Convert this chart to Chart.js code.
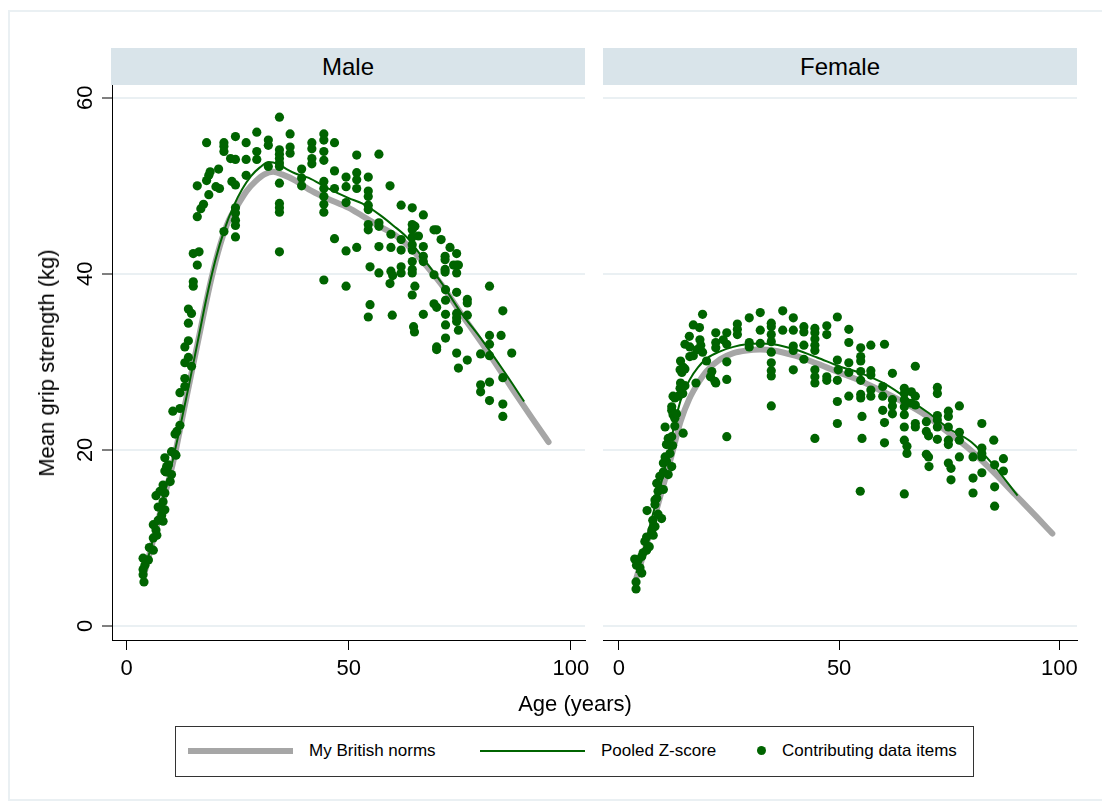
<!DOCTYPE html>
<html>
<head>
<meta charset="utf-8">
<title>Mean grip strength by age</title>
<script src="https://cdn.jsdelivr.net/npm/chart.js@4.4.1/dist/chart.umd.min.js"></script>
<style>
  html, body { margin: 0; padding: 0; background: #fff; }
  #page { position: relative; width: 1102px; height: 807px; overflow: hidden;
          font-family: "Liberation Sans", Arial, Helvetica, sans-serif; color: #000; }
  #frame { position: absolute; left: 8px; top: 10px; width: 1120px; height: 791px;
           border: 2px solid #eaf0f3; box-sizing: border-box; }
  .strip { position: absolute; top: 48px; height: 37px; width: 474px; background: #d9e4ea;
           font-size: 24px; line-height: 37px; text-align: center; }
  canvas { position: absolute; }
  #ytitle { position: absolute; left: 47px; top: 363px; font-size: 22px; white-space: nowrap;
            transform: translate(-50%, -50%) rotate(-90deg); }
  #xtitle { position: absolute; left: 575px; top: 704px; font-size: 22px; white-space: nowrap;
            transform: translate(-50%, -50%); }
  #legend { position: absolute; left: 175px; top: 726px; width: 799px; height: 51px;
            border: 1px solid #333; box-sizing: border-box; font-size: 17px; }
  #legend .item { position: absolute; }
  #legend .txt { position: absolute; top: 14px; line-height: 20px; white-space: nowrap; }
</style>
</head>
<body>
<div id="page">
  <div id="frame"></div>
  <div class="strip" style="left:111px;">Male</div>
  <div class="strip" style="left:603px;">Female</div>
  <canvas id="male" width="560" height="620" style="left:40px; top:80px; width:560px; height:620px;"></canvas>
  <canvas id="female" width="500" height="620" style="left:590px; top:80px; width:500px; height:620px;"></canvas>
  <div id="ytitle">Mean grip strength (kg)</div>
  <div id="xtitle">Age (years)</div>
  <div id="legend">
    <div class="item" style="left:12px; top:21px; width:105px; height:6px; background:#a6a6a6;"></div>
    <div class="txt" style="left:133px;">My British norms</div>
    <div class="item" style="left:304px; top:23px; width:105px; height:2px; background:#006400;"></div>
    <div class="txt" style="left:425px;">Pooled Z-score</div>
    <div class="item" style="left:581px; top:19px; width:9px; height:9px; border-radius:50%; background:#006400;"></div>
    <div class="txt" style="left:606px;">Contributing data items</div>
  </div>
</div>

<script>
// Axis tick values
const xTicks = [0, 50, 100];
const yTicks = [0, 20, 40, 60];

// Contributing data items, men: age (years) and mean grip strength (kg)
const maleAge = [
  3.9,3.7,3.7,4.1,4.9,3.7,6.0,5.1,6.0,6.8,
  6.6,6.0,8.2,7.1,7.9,8.6,7.1,8.2,6.6,8.6,
  7.5,8.2,9.8,10.1,8.9,8.6,9.0,9.4,8.6,10.9,
  10.1,11.1,10.9,11.3,12.0,10.4,12.0,12.0,13.1,13.1,
  14.6,13.1,13.9,13.1,13.9,13.9,14.6,13.9,15.0,15.0,
  15.9,15.0,16.3,15.9,16.7,17.3,18.5,15.9,20.1,20.9,
  18.0,18.5,18.8,20.7,18.0,21.9,21.9,21.9,21.9,23.4,
  23.7,24.5,24.5,24.5,24.5,24.5,24.5,24.5,24.5,26.9,
  26.9,26.9,29.3,29.3,29.3,31.9,31.9,31.9,34.4,34.4,
  34.4,34.4,34.4,34.4,34.4,34.4,34.4,34.4,34.4,36.8,
  36.8,36.8,39.4,39.4,39.4,41.7,41.7,41.7,41.7,44.4,
  44.4,44.4,44.4,44.4,44.4,44.4,44.4,44.4,44.4,46.8,
  46.8,46.8,46.8,49.4,49.4,49.4,49.4,49.4,51.8,51.8,
  51.8,51.8,51.8,54.4,54.4,54.4,54.4,54.4,54.4,54.4,
  54.8,54.8,54.4,56.8,56.8,56.8,56.8,56.8,59.3,59.5,
  59.5,59.5,59.9,59.3,59.8,61.8,61.8,61.8,61.8,61.8,
  64.3,64.3,64.9,64.3,65.7,64.3,64.3,64.3,64.3,64.3,
  64.3,64.9,64.3,64.6,64.8,66.8,66.8,66.8,66.8,66.8,
  69.2,69.8,69.2,69.2,69.8,69.8,69.8,70.8,71.7,71.7,
  71.7,71.7,71.8,71.8,71.8,71.8,71.8,72.8,74.3,74.3,
  73.6,74.7,74.3,74.3,74.3,74.3,74.3,74.7,74.3,74.7,
  76.7,76.7,76.7,76.7,79.7,79.7,79.7,81.7,81.7,81.7,
  81.7,81.7,81.7,84.3,84.7,84.7,84.7,84.7,86.7
];
const maleGrip = [
  5.0,5.8,6.4,6.9,7.5,7.7,8.6,8.9,10.0,10.3,
  10.9,11.5,11.9,12.0,12.6,13.2,13.5,14.1,14.8,15.1,
  15.3,16.0,16.4,17.2,17.5,17.6,18.1,18.3,19.1,19.5,
  19.8,19.4,21.8,22.1,22.8,24.4,24.7,26.5,27.2,28.1,
  29.5,29.9,30.5,31.7,32.4,34.4,35.5,36.0,38.6,39.1,
  41.0,42.3,42.5,46.5,47.4,47.9,49.0,50.0,49.9,49.7,
  50.6,51.2,51.6,51.9,54.9,54.9,54.5,53.9,44.8,53.1,
  50.5,50.1,55.6,53.0,47.5,46.9,46.1,45.5,44.2,54.9,
  53.0,51.2,56.1,53.9,53.0,55.2,54.6,52.2,57.8,54.1,
  53.6,53.1,52.6,52.2,50.3,48.0,47.5,47.0,42.5,55.9,
  54.4,53.7,51.9,50.9,50.0,54.9,54.2,53.1,52.5,55.9,
  55.2,53.9,52.9,50.5,49.7,48.8,47.9,47.0,39.3,54.9,
  51.7,49.7,44.0,51.0,49.9,48.1,42.6,38.6,53.5,51.5,
  50.7,49.7,43.0,51.0,49.4,48.8,47.8,47.3,45.6,45.0,
  40.8,36.5,35.1,53.6,45.8,45.4,43.1,40.1,50.0,44.5,
  43.0,40.3,39.8,38.9,35.3,47.8,43.9,42.7,40.8,40.1,
  47.5,45.6,45.4,45.0,44.3,44.2,43.3,42.7,41.4,40.5,
  40.1,38.6,37.6,34.0,33.4,46.7,43.1,42.0,41.4,35.4,
  45.0,45.0,39.9,36.6,36.2,31.7,31.4,43.9,42.0,41.6,
  40.5,40.2,38.2,37.0,35.4,34.2,32.7,43.0,42.3,41.0,
  41.0,41.0,40.1,37.9,35.5,35.0,34.6,33.6,31.0,29.3,
  37.1,36.7,35.3,30.2,30.9,27.4,26.6,38.6,33.0,32.0,
  30.7,27.7,25.6,33.0,35.8,28.2,25.2,23.8,31.0
];

// Contributing data items, women
const femaleAge = [
  3.9,3.9,5.2,4.8,4.0,4.4,3.6,5.2,5.5,6.3,
  6.9,5.9,6.3,7.8,7.5,8.2,7.7,9.7,8.9,6.4,
  8.2,8.2,8.6,8.9,10.1,9.3,8.6,9.3,11.2,10.1,
  12.0,10.1,10.8,10.5,11.6,12.2,10.8,11.2,12.0,14.6,
  10.5,12.7,12.7,12.3,13.1,12.0,12.0,12.7,12.3,13.5,
  14.5,13.9,15.0,14.0,17.5,22.0,21.8,24.5,20.8,14.3,
  21.1,13.9,15.0,14.6,14.0,19.9,24.5,16.1,16.9,19.0,
  17.8,22.0,16.1,18.6,15.0,24.5,22.0,18.4,23.7,16.0,
  22.0,24.5,18.3,16.9,19.0,26.9,26.9,26.9,29.6,29.6,
  29.6,32.1,32.1,32.1,34.6,34.6,34.6,34.6,34.6,34.6,
  34.6,34.6,34.6,37.2,37.2,39.6,39.6,39.6,39.6,39.6,
  42.0,42.0,42.0,42.0,44.5,44.5,44.5,44.5,44.5,44.5,
  44.5,44.5,44.5,24.5,47.2,47.2,47.2,47.2,49.6,49.6,
  49.8,49.6,49.6,49.6,52.2,52.2,52.2,52.2,52.2,54.9,
  54.9,54.9,54.9,54.9,54.9,54.9,55.2,55.2,54.8,57.2,
  57.2,57.2,57.2,57.2,59.9,59.9,59.9,60.3,60.3,60.3,
  62.1,62.1,62.1,62.1,64.8,64.8,64.8,64.8,64.8,64.8,
  64.8,64.8,65.4,65.4,66.4,66.4,67.3,67.3,67.3,67.3,
  67.3,69.8,69.8,70.3,69.8,70.3,70.4,72.3,72.3,72.3,
  72.3,72.3,72.3,74.8,74.8,74.8,74.8,74.8,74.8,75.4,
  75.4,77.3,77.3,77.3,77.3,80.4,80.4,80.4,82.4,82.4,
  82.4,82.4,82.4,85.1,85.3,85.3,85.3,87.3,87.3
];
const femaleGrip = [
  4.2,5.0,6.0,6.6,6.9,7.5,7.6,7.9,8.3,8.6,
  9.0,9.6,10.1,10.3,10.9,11.3,12.0,12.2,12.7,13.1,
  13.8,14.3,14.5,15.3,15.5,15.6,16.2,17.0,17.2,17.5,
  18.1,18.5,18.7,19.2,19.6,20.5,20.6,21.3,21.5,21.9,
  22.6,22.7,23.6,24.0,24.1,24.5,24.9,25.9,26.1,26.1,
  26.4,27.0,27.3,27.6,27.6,27.6,27.8,28.0,28.3,28.8,
  28.9,29.1,29.2,29.4,30.1,30.1,30.0,30.6,30.7,31.1,
  31.4,31.6,31.7,31.9,32.0,32.0,32.2,32.5,32.5,32.9,
  33.3,33.3,33.9,34.2,35.4,34.3,33.7,33.1,35.0,32.2,
  31.7,35.6,33.6,32.1,34.4,34.0,33.1,32.3,31.1,29.9,
  29.0,28.4,25.0,35.8,33.6,35.0,33.6,31.8,31.3,29.1,
  34.0,33.4,31.9,30.3,33.8,33.3,32.6,31.9,31.3,29.1,
  28.3,27.6,21.3,21.5,34.1,33.1,28.3,27.9,35.1,30.2,
  29.1,27.9,25.5,23.0,33.7,32.2,29.9,28.8,26.1,31.6,
  30.6,30.1,28.9,27.9,26.3,25.9,23.8,21.3,15.3,31.9,
  29.0,28.5,26.8,26.1,27.2,26.1,24.5,32.0,23.1,20.8,
  28.7,25.7,25.0,24.1,27.0,26.4,25.7,24.9,24.0,22.6,
  21.1,15.0,20.4,19.6,26.6,25.3,29.5,26.1,25.1,23.0,
  22.6,23.2,22.1,21.6,19.5,19.2,18.1,27.1,26.4,23.9,
  23.4,22.6,21.2,24.4,23.8,22.6,21.1,20.6,18.5,17.9,
  16.6,25.0,22.0,21.1,19.2,19.2,16.8,15.1,23.0,20.2,
  19.6,19.2,17.4,21.1,18.3,15.8,13.6,19.0,17.6
];

// My British norms (smoothed curves)
const maleNormAge = [4,6,8,10,11,13,15,17,19,21,23,25,27,29,31,33,35,38,41,45,50,53,57,61,64,68,71,75,80,84,87,91,95];
const maleNormKg  = [6.0,9.8,13.8,17.6,19.8,24.8,29.7,34.6,39.3,43.2,46.1,47.8,49.4,50.5,51.3,51.6,51.3,50.6,49.6,48.6,47.5,46.6,45.4,44.2,42.9,40.6,38.7,35.7,32.1,29.1,26.8,23.8,20.9];
const femaleNormAge = [4,6,8,10,12,14,16,18,20,23,26,29,32,35,40,45,50,55,60,65,70,75,80,85,90,95,98.4];
const femaleNormKg  = [5.5,8.8,12.2,15.8,19.4,23.2,25.8,27.6,29.0,30.3,31.0,31.3,31.4,31.3,30.7,29.8,28.8,27.8,26.6,25.3,23.8,21.9,19.9,17.5,14.9,12.3,10.5];

// Pooled Z-score curves
const maleZAge = [4,6,8,10,12,14,16,18,20,22,24,26,28,30,32,34,36,38,41,45,50,53,57,60,63,67,71,75,80,85,89.5];
const maleZKg  = [6.2,10.0,14.0,18.0,22.5,27.3,32.3,37.3,41.6,45.0,47.6,49.6,51.1,52.1,52.7,52.5,51.9,51.4,50.9,49.8,48.6,48.0,46.7,45.5,44.2,41.6,38.9,35.8,32.5,28.9,25.5];
const femaleZAge = [4,6,8,10,12,14,16,18,20,23,26,29,32,35,40,45,50,55,60,65,70,75,80,85,90.5];
const femaleZKg  = [6.0,9.4,13.2,17.0,21.5,25.6,27.9,29.4,30.4,31.2,31.7,32.0,32.1,32.0,31.4,30.5,29.5,28.7,27.6,26.0,24.3,22.4,20.9,18.3,14.8];

const FONT = '"Liberation Sans", Arial, Helvetica, sans-serif';
const GREEN = '#006400';
const GREY = '#a6a6a6';
const GRID = '#eaf0f3';

const toXY = (xs, ys) => xs.map((x, i) => ({ x, y: ys[i] }));

function panelData(age, grip, normAge, normKg, zAge, zKg) {
  return {
    datasets: [
      { label: 'Contributing data items', data: toXY(age, grip), showLine: false,
        pointRadius: 4.6, pointHoverRadius: 4.6, pointBorderWidth: 0,
        pointBackgroundColor: GREEN, borderColor: GREEN, backgroundColor: GREEN },
      { label: 'Pooled Z-score', data: toXY(zAge, zKg), showLine: true, fill: false,
        borderColor: GREEN, borderWidth: 2, pointRadius: 0, cubicInterpolationMode: 'monotone' },
      { label: 'My British norms', data: toXY(normAge, normKg), showLine: true, fill: false,
        borderColor: GREY, borderWidth: 6, borderCapStyle: 'round', borderJoinStyle: 'round',
        pointRadius: 0, cubicInterpolationMode: 'monotone' }
    ]
  };
}

// Vertical (rotated) y tick labels, placed from the y scale
const rotatedYLabels = {
  id: 'rotatedYLabels',
  afterDraw(chart) {
    const s = chart.scales.y, ctx = chart.ctx;
    ctx.save();
    ctx.font = '22px ' + FONT;
    ctx.fillStyle = '#000';
    ctx.textAlign = 'center';
    ctx.textBaseline = 'alphabetic';
    s.ticks.forEach(t => {
      ctx.save();
      ctx.translate(s.right - 20.5, s.getPixelForValue(t.value));
      ctx.rotate(-Math.PI / 2);
      ctx.fillText(String(t.value), 0, 0);
      ctx.restore();
    });
    ctx.restore();
  }
};

function makeOptions(xMin, xMax, yWidth, padRight, withYAxis) {
  return {
    responsive: false,
    animation: false,
    devicePixelRatio: 1,
    layout: { padding: { top: 5.5, right: padRight, left: 0, bottom: 0 } },
    plugins: { legend: { display: false }, tooltip: { enabled: false } },
    events: [],
    scales: {
      x: {
        type: 'linear', min: xMin, max: xMax,
        afterBuildTicks: s => { s.ticks = xTicks.map(v => ({ value: v })); },
        afterFit: s => { s.height = 60; },
        grid: { drawOnChartArea: false, drawTicks: true, tickLength: 10,
                tickColor: '#000', tickWidth: 1 },
        border: { display: true, color: '#000', width: 1 },
        ticks: { font: { family: FONT, size: 22 }, color: '#000', padding: 6,
                 maxRotation: 0, minRotation: 0, autoSkip: false }
      },
      y: {
        type: 'linear', min: -1.6, max: 61.4,
        afterBuildTicks: s => { s.ticks = yTicks.map(v => ({ value: v })); },
        afterFit: s => { s.width = yWidth; },
        grid: { color: GRID, lineWidth: 2, drawTicks: withYAxis, tickLength: 10,
                tickColor: '#000', tickWidth: 1 },
        border: { display: withYAxis, color: '#000', width: 1 },
        ticks: { display: false }
      }
    }
  };
}

new Chart(document.getElementById('male'), {
  type: 'scatter',
  data: panelData(maleAge, maleGrip, maleNormAge, maleNormKg, maleZAge, maleZKg),
  options: makeOptions(-3.3, 103.2, 72, 15, true),
  plugins: [rotatedYLabels]
});

new Chart(document.getElementById('female'), {
  type: 'scatter',
  data: panelData(femaleAge, femaleGrip, femaleNormAge, femaleNormKg, femaleZAge, femaleZKg),
  options: makeOptions(-3.6, 104.0, 13, 13, false)
});
</script>
</body>
</html>
